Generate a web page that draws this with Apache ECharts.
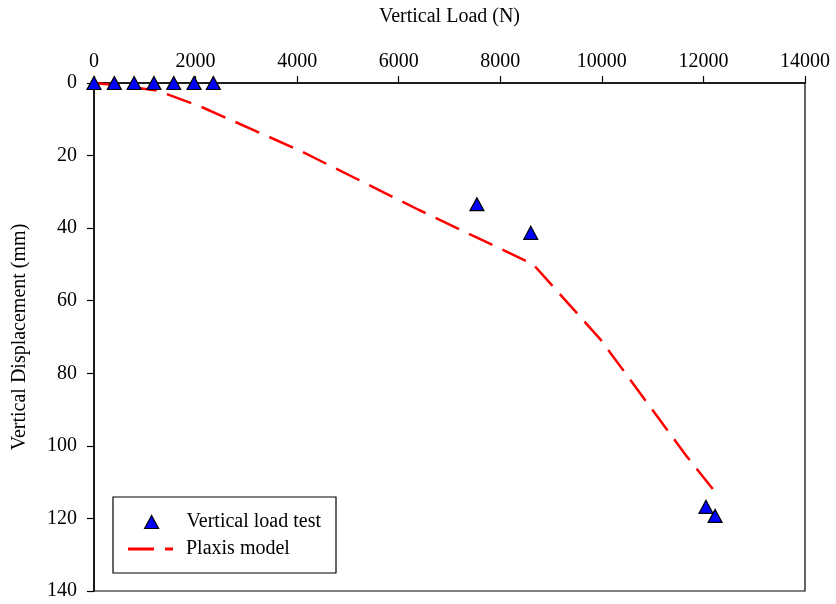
<!DOCTYPE html>
<html>
<head>
<meta charset="utf-8">
<script src="https://cdn.jsdelivr.net/npm/echarts@6/dist/echarts.min.js"></script>
<style>
  html, body { margin: 0; padding: 0; background: #fff; }
  #chart { width: 836px; height: 604px; }
</style>
</head>
<body>
<div id="chart"></div>
<script>
// Measured load test: load (N) and vertical displacement (mm)
const testLoad = [0, 400, 790, 1180, 1570, 1970, 2350, 7540, 8600, 12050, 12230];
const testDisp = [0, 0, 0, 0, 0, 0, 0, 33.4, 41.3, 116.8, 119.3];

// Plaxis numerical model curve
const modelLoad = [0, 500, 1250, 2100, 4050, 6400, 8650, 9980, 11650, 12190];
const modelDisp = [0, 0.7, 2.1, 6.5, 18.6, 35, 50, 70.8, 102.5, 112];

const xTicks = { min: 0, max: 14000, interval: 2000 };
const yTicks = { min: 0, max: 140, interval: 20 };

const font = 'Liberation Serif';
const fs = 20;
const chart = echarts.init(document.getElementById('chart'));

const legendText = { fontFamily: font, fontSize: fs, color: '#000', lineHeight: 20 };

chart.setOption({
  backgroundColor: '#fff',
  animation: false,
  grid: {
    left: 94, right: 31, top: 83, bottom: 13,
    outerBoundsMode: 'none',
    containLabel: false,
    show: true, borderColor: '#000', borderWidth: 1.2
  },
  xAxis: {
    type: 'value',
    position: 'top',
    min: xTicks.min, max: xTicks.max, interval: xTicks.interval,
    name: 'Vertical Load (N)',
    nameLocation: 'middle',
    nameGap: 56,
    nameTextStyle: { fontFamily: font, fontSize: fs, color: '#000' },
    axisLine: { lineStyle: { color: '#000', width: 1.5 } },
    axisTick: { inside: false, length: 7, lineStyle: { color: '#000', width: 1.2 } },
    axisLabel: { fontFamily: font, fontSize: fs, color: '#000', margin: 11, formatter: v => String(v) },
    splitLine: { show: false }
  },
  yAxis: {
    type: 'value',
    inverse: true,
    min: yTicks.min, max: yTicks.max, interval: yTicks.interval,
    name: 'Vertical Displacement (mm)',
    nameLocation: 'middle',
    nameGap: 64,
    nameRotate: 90,
    nameTextStyle: { fontFamily: font, fontSize: fs, color: '#000' },
    axisLine: { onZero: false, lineStyle: { color: '#000', width: 1.5 } },
    axisTick: { inside: false, length: 7, lineStyle: { color: '#000', width: 1.2 } },
    axisLabel: { fontFamily: font, fontSize: fs, color: '#000', margin: 17, formatter: v => String(v) },
    splitLine: { show: false }
  },
  // Legend frame
  graphic: [{
    type: 'rect',
    shape: { x: 113, y: 497, width: 223, height: 76 },
    style: { fill: '#fff', stroke: '#000', lineWidth: 1.2 },
    z: 5
  }],
  legend: [
    {
      left: 144, top: 512,
      padding: 0,
      itemWidth: 14, itemHeight: 13,
      textStyle: Object.assign({ padding: [0, 0, 0, 23] }, legendText),
      data: [{
        name: 'Vertical load test',
        icon: 'triangle',
        itemStyle: { color: '#0000ff', borderColor: '#000', borderWidth: 1.2 }
      }],
      z: 10
    },
    {
      left: 128, top: 539,
      padding: 0,
      itemWidth: 45, itemHeight: 3,
      textStyle: Object.assign({ padding: [0, 0, 0, 8] }, legendText),
      data: [{
        name: 'Plaxis model',
        icon: 'path://M0,0h26v3h-26z M37,0h8v3h-8z',
        itemStyle: { color: '#ff0000', borderWidth: 0 }
      }],
      z: 10
    }
  ],
  series: [
    {
      name: 'Plaxis model',
      type: 'line',
      data: modelLoad.map((x, i) => [x, modelDisp[i]]),
      symbol: 'none',
      smooth: false,
      lineStyle: { color: '#ff0000', width: 2.5, type: [26, 11] },
      itemStyle: { color: '#ff0000' },
      z: 2
    },
    {
      name: 'Vertical load test',
      type: 'scatter',
      data: testLoad.map((x, i) => [x, testDisp[i]]),
      symbol: 'triangle',
      symbolSize: [14, 13],
      itemStyle: { color: '#0000ff', opacity: 1, borderColor: '#000', borderWidth: 1.2 },
      clip: false,
      z: 3
    }
  ]
});
</script>
</body>
</html>
